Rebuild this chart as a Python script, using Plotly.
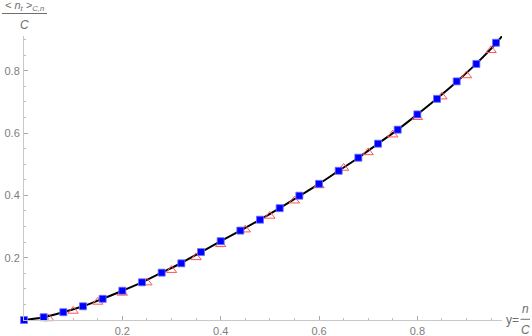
import plotly.graph_objects as go

# ---- data ----
square_x = [0.00, 0.04, 0.08, 0.12, 0.16, 0.20, 0.24, 0.28, 0.32, 0.36, 0.40, 0.44, 0.48,
            0.52, 0.56, 0.60, 0.64, 0.68, 0.72, 0.76, 0.80, 0.84, 0.88, 0.92, 0.96]
square_y = [0.000, 0.009, 0.025, 0.044, 0.068, 0.094, 0.121, 0.152, 0.182, 0.218, 0.253, 0.287, 0.322,
            0.359, 0.399, 0.437, 0.479, 0.521, 0.566, 0.611, 0.660, 0.710, 0.766, 0.822, 0.890]

tri_x = [0.00, 0.05, 0.10, 0.15, 0.20, 0.25, 0.30, 0.35, 0.40, 0.45,
         0.50, 0.55, 0.60, 0.65, 0.70, 0.75, 0.80, 0.85, 0.90, 0.95]
tri_y = [-0.004, 0.005, 0.029, 0.058, 0.087, 0.120, 0.160, 0.201, 0.243, 0.290,
         0.334, 0.383, 0.432, 0.488, 0.538, 0.595, 0.651, 0.717, 0.785, 0.866]

curve_x = [0.00, 0.04, 0.08, 0.12, 0.16, 0.20, 0.24, 0.28, 0.32, 0.36, 0.40, 0.44, 0.48,
           0.52, 0.56, 0.60, 0.64, 0.68, 0.72, 0.76, 0.80, 0.84, 0.88, 0.92, 0.96, 0.972]
curve_y = [0.000, 0.009, 0.025, 0.044, 0.068, 0.094, 0.121, 0.152, 0.183, 0.218, 0.253, 0.287, 0.322,
           0.359, 0.398, 0.437, 0.479, 0.521, 0.566, 0.611, 0.660, 0.711, 0.765, 0.823, 0.888, 0.911]

x_ticks = [0.2, 0.4, 0.6, 0.8]
y_ticks = [0.2, 0.4, 0.6, 0.8]

W, H = 532, 336
ML, MR, MT, MB = 24, 30, 36, 16
PW, PH = W - ML - MR, H - MT - MB

def px(xp):
    return (xp - ML) / PW

def py(yp):
    return (H - MB - yp) / PH

fig = go.Figure()
fig.add_trace(go.Scatter(x=curve_x, y=curve_y, mode="lines", line=dict(color="black", width=2, shape="spline"),
                         cliponaxis=False, hoverinfo="skip"))
fig.add_trace(go.Scatter(x=tri_x, y=tri_y, mode="markers",
                         marker=dict(symbol="triangle-up-open", size=9, color="rgb(255,85,85)", line=dict(width=1)),
                         cliponaxis=False))
fig.add_trace(go.Scatter(x=square_x, y=square_y, mode="markers",
                         marker=dict(symbol="square", size=7, color="rgb(0,0,255)",
                                     line=dict(width=0.8, color="rgb(110,110,255)")),
                         cliponaxis=False))

axis_common = dict(showgrid=False, zeroline=False, showline=True, linecolor="rgb(200,200,200)", linewidth=1,
                   ticks="inside", ticklen=4, tickcolor="rgb(170,170,170)", tickwidth=1,
                   tickfont=dict(family="Liberation Sans", size=11, color="rgb(125,125,125)"),
                   minor=dict(ticks="inside", dtick=0.05, ticklen=2, tickcolor="rgb(190,190,190)", tick0=0),
                   fixedrange=True, automargin=False)

fig.update_layout(
    width=W, height=H,
    margin=dict(l=ML, r=MR, t=MT, b=MB, autoexpand=False),
    paper_bgcolor="white", plot_bgcolor="white",
    showlegend=False,
    xaxis=dict(range=[0, PW / 491.7], tickvals=x_ticks, ticktext=[str(v) for v in x_ticks], ticklabelstandoff=1, **axis_common),
    yaxis=dict(range=[0, PH / 311.5], tickvals=y_ticks, ticktext=[str(v) for v in y_ticks], ticklabelstandoff=1, **axis_common),
)

lab_font = dict(family="Liberation Sans", size=12, color="rgb(110,110,110)")

def label(xp, yp, text, font=lab_font):
    fig.add_annotation(x=px(xp), y=py(yp), xref="paper", yref="paper", showarrow=False,
                       xanchor="center", yanchor="middle", text=text, font=font)

label(24.5, 6.5, "<i>&lt; n<sub>t</sub> &gt;<sub>C,n</sub></i>",
      font=dict(family="Liberation Sans", size=11, color="rgb(110,110,110)"))
label(24, 24.5, "<i>C</i>")
fig.add_shape(type="line", xref="paper", yref="paper", x0=px(2), x1=px(47), y0=py(13.5), y1=py(13.5),
              line=dict(color="rgb(110,110,110)", width=1))

label(512.5, 320, "y=")
label(525, 309, "<i>n</i>")
label(525, 330, "<i>C</i>")
fig.add_shape(type="line", xref="paper", yref="paper", x0=px(520.5), x1=px(530), y0=py(319.3), y1=py(319.3),
              line=dict(color="rgb(110,110,110)", width=1))

fig.write_html("out.html", config={"displayModeBar": False},
               post_script="document.body.style.margin='0px';document.body.style.overflow='hidden';")
